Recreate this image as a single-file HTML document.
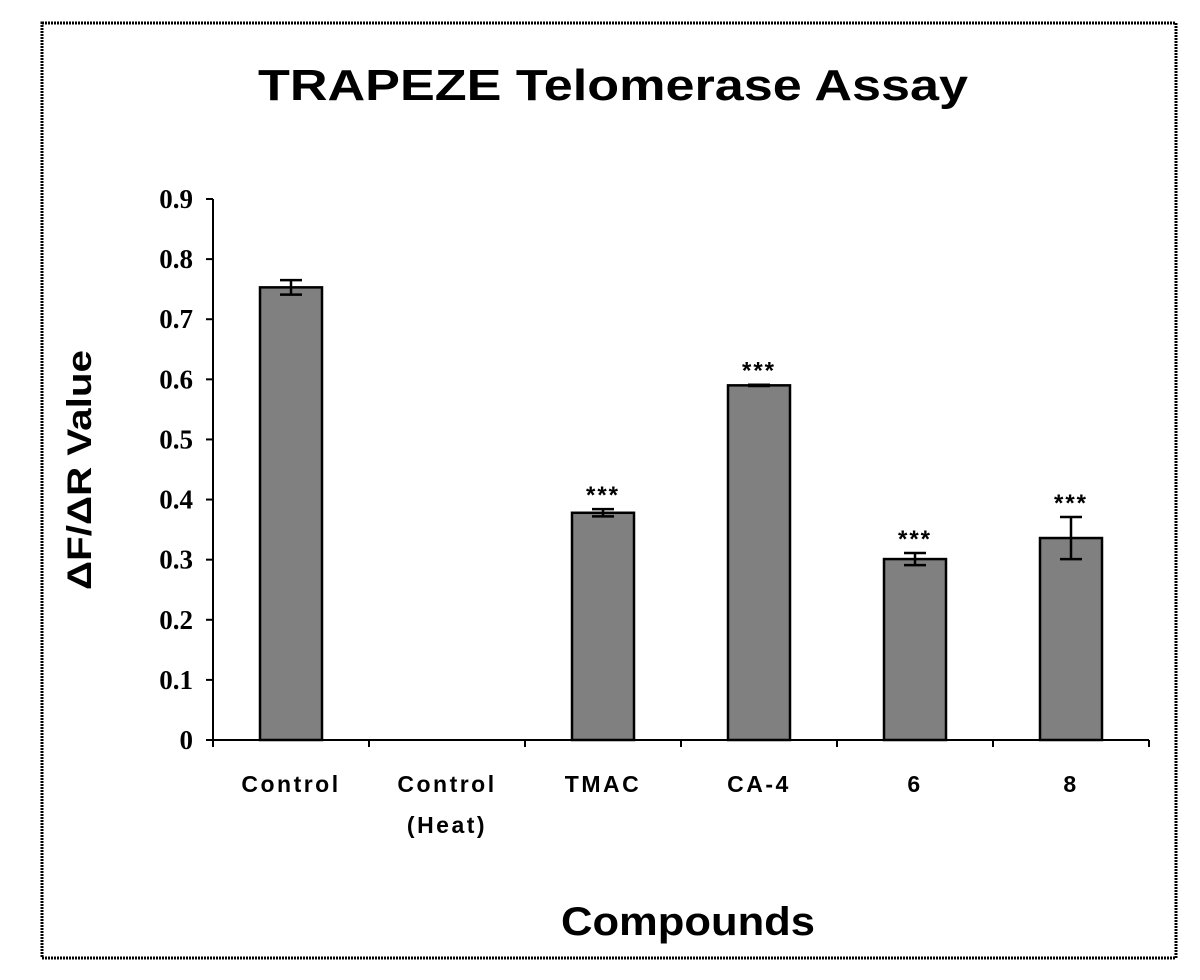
<!DOCTYPE html>
<html><head><meta charset="utf-8"><style>
html,body{margin:0;padding:0;background:#fff;width:1200px;height:980px;overflow:hidden}
svg{display:block}
text{font-family:"Liberation Sans",Arial,sans-serif;font-weight:bold;fill:#000}
.tick{font-family:"Liberation Serif","Times New Roman",serif;font-size:27px}
</style></head><body>
<svg id="chart" width="1200" height="980" viewBox="0 0 1200 980">
<rect x="42" y="23" width="1134" height="935" fill="#fff" stroke="#000" stroke-width="3" stroke-dasharray="2 1"/>
<text x="613" y="100" font-size="44" text-anchor="middle" textLength="710" lengthAdjust="spacingAndGlyphs">TRAPEZE Telomerase Assay</text>
<text transform="translate(91,470) rotate(-90)" font-size="34" text-anchor="middle" textLength="240" lengthAdjust="spacingAndGlyphs">ΔF/ΔR Value</text>
<text x="688" y="935" font-size="40" text-anchor="middle" textLength="254" lengthAdjust="spacingAndGlyphs">Compounds</text>
<g id="plot"></g>
</svg>
<script>
const categories = ["Control", "Control\n(Heat)", "TMAC", "CA-4", "6", "8"];
const values = [0.753, 0, 0.378, 0.590, 0.301, 0.336];
const errors = [0.012, 0, 0.006, 0.001, 0.010, 0.035];
const significance = ["", "", "***", "***", "***", "***"];
const yTicks = [0, 0.1, 0.2, 0.3, 0.4, 0.5, 0.6, 0.7, 0.8, 0.9];

const X0 = 213, X1 = 1149, Y0 = 740, YTOP = 199, YMAX = 0.9;
const NS = "http://www.w3.org/2000/svg";
const g = document.getElementById('plot');
const band = (X1 - X0) / categories.length;
const xc = i => X0 + band * (i + 0.5);
const y = v => Y0 - (v / YMAX) * (Y0 - YTOP);
function mk(tag, attrs) {
  const e = document.createElementNS(NS, tag);
  for (const k in attrs) e.setAttribute(k, attrs[k]);
  g.appendChild(e);
  return e;
}
let ax = mk('line', {x1: X0, y1: YTOP, x2: X0, y2: Y0, stroke: '#000', 'stroke-width': 2});


yTicks.forEach(t => {
  const tk = mk('line', {x1: X0 - 7, y1: y(t), x2: X0, y2: y(t), stroke: '#000', 'stroke-width': 2});
  
  
  const tl = mk('text', {x: 193, y: y(t) + 9, 'text-anchor': 'end', class: 'tick'});
  tl.textContent = t === 0 ? '0' : t.toFixed(1);
  
  
});
categories.forEach((c, i) => {
  const v = values[i], bw = 62;
  if (v > 0) {
    const b = mk('rect', {x: xc(i) - bw / 2, y: y(v), width: bw, height: Y0 - y(v), fill: '#808080', stroke: '#000', 'stroke-width': 2.5});
    
    
    const e = errors[i];
    const et = y(v + e), eb = y(v - e);
    const el = mk('path', {d: `M${xc(i)},${et}V${eb}M${xc(i)-11},${et}H${xc(i)+11}M${xc(i)-11},${eb}H${xc(i)+11}`, stroke: '#000', 'stroke-width': 2.5, fill: 'none'});
    
    
  }
  if (significance[i]) {
    const s = mk('text', {x: xc(i), y: y(v + errors[i]) - 6, 'text-anchor': 'middle', 'font-size': 24, 'letter-spacing': 2});
    s.textContent = significance[i];
    
    
  }
  const lines = c.split('\n');
  lines.forEach((ln, k) => {
    const t = mk('text', {x: xc(i), y: 792 + k * 41, 'text-anchor': 'middle', 'font-size': 23, 'letter-spacing': 2.5});
    t.textContent = ln;
    
    
  });
});
let xa = mk('line', {x1: X0, y1: Y0, x2: X1, y2: Y0, stroke: '#000', 'stroke-width': 2});


for (let i = 0; i <= categories.length; i++) {
  const tk = mk('line', {x1: X0 + band * i, y1: Y0, x2: X0 + band * i, y2: Y0 + 7, stroke: '#000', 'stroke-width': 2});
  
  
}
</script>
</body></html>
